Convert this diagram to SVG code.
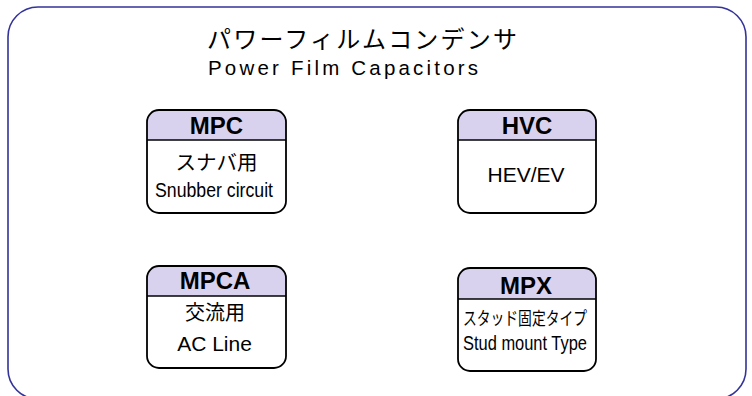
<svg xmlns="http://www.w3.org/2000/svg" width="752" height="396" viewBox="0 0 752 396">
<style>
.frame{fill:#ffffff;stroke:#333399;stroke-width:1.6}
.box{fill:none;stroke:#000000;stroke-width:1.8}
.bg{fill:#ffffff}
.hd{fill:#d9d2ee}
.sep{stroke:#000000;stroke-width:1.5}
.t{font-family:"Liberation Sans",Arial,"Noto Sans CJK JP",sans-serif;fill:#000000}
.jp{font-family:"Noto Sans CJK JP","Liberation Sans",sans-serif;fill:#000000}
.b{font-weight:bold;font-size:24px}
.m{text-anchor:middle}
</style>
<rect width="752" height="396" fill="#ffffff"/>
<g id="frame">
<rect class="frame" x="8" y="7" width="738" height="392" rx="30" ry="30"/>
</g>
<g id="title">
<text class="jp" x="207" y="48" font-size="24" textLength="310" lengthAdjust="spacing">パワーフィルムコンデンサ</text>
<text class="t" x="208" y="75" font-size="20.5" textLength="270" lengthAdjust="spacing">Power Film Capacitors</text>
</g>
<g id="connectors"></g>
<g id="mpc">
<rect class="bg" x="147" y="110" width="139" height="103" rx="12"/>
<path class="hd" d="M147,140 V122 A12,12 0 0 1 159,110 H274 A12,12 0 0 1 286,122 V140 Z"/>
<line class="sep" x1="147" y1="140" x2="286" y2="140"/>
<rect class="box" x="147" y="110" width="139" height="103" rx="12"/>
<text class="t b m" x="216.5" y="134">MPC</text>
<text class="jp m" x="216.5" y="170" font-size="20.5">スナバ用</text>
<text class="t m" x="214" y="196.5" font-size="20" textLength="118" lengthAdjust="spacingAndGlyphs">Snubber circuit</text>
</g>
<g id="hvc">
<rect class="bg" x="458" y="110" width="138" height="103" rx="12"/>
<path class="hd" d="M458,140 V122 A12,12 0 0 1 470,110 H584 A12,12 0 0 1 596,122 V140 Z"/>
<line class="sep" x1="458" y1="140" x2="596" y2="140"/>
<rect class="box" x="458" y="110" width="138" height="103" rx="12"/>
<text class="t b m" x="527" y="134">HVC</text>
<text class="t m" x="526" y="182" font-size="21">HEV/EV</text>
</g>
<g id="mpca">
<rect class="bg" x="147" y="266" width="139" height="102" rx="12"/>
<path class="hd" d="M147,296 V278 A12,12 0 0 1 159,266 H274 A12,12 0 0 1 286,278 V296 Z"/>
<line class="sep" x1="147" y1="296" x2="286" y2="296"/>
<rect class="box" x="147" y="266" width="139" height="102" rx="12"/>
<text class="t b m" x="215" y="289">MPCA</text>
<text class="jp m" x="215" y="320" font-size="20">交流用</text>
<text class="t m" x="214.5" y="351" font-size="21">AC Line</text>
</g>
<g id="mpx">
<rect class="bg" x="458" y="268" width="138" height="103" rx="12"/>
<path class="hd" d="M458,299 V280 A12,12 0 0 1 470,268 H584 A12,12 0 0 1 596,280 V299 Z"/>
<line class="sep" x1="458" y1="299" x2="596" y2="299"/>
<rect class="box" x="458" y="268" width="138" height="103" rx="12"/>
<text class="t b m" x="526" y="293.5">MPX</text>
<text class="jp m" x="525" y="324.5" font-size="18" textLength="124" lengthAdjust="spacingAndGlyphs">スタッド固定タイプ</text>
<text class="t m" x="525" y="349.5" font-size="21" textLength="124" lengthAdjust="spacingAndGlyphs">Stud mount Type</text>
</g>
</svg>
